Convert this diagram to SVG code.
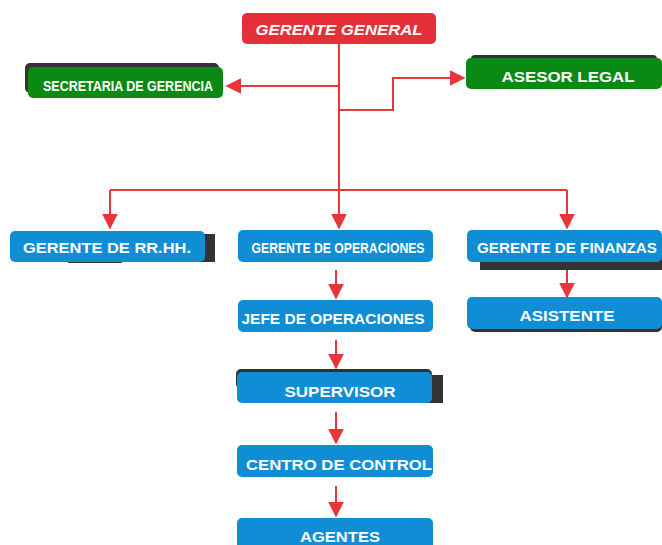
<svg xmlns="http://www.w3.org/2000/svg" width="662" height="545" viewBox="0 0 662 545">
<style>
.t{font-family:"Liberation Sans",Arial,sans-serif;font-weight:bold;fill:#fff;text-anchor:middle}
.blue{fill:#0f8ed6}
.green{fill:#0a8a12}
.sh{fill:#333}
.ln{fill:none;stroke:#e8353a;stroke-width:2}
</style>
<defs>
<marker id="ah" viewBox="0 0 10 10" refX="9" refY="5" markerWidth="8" markerHeight="8" markerUnits="strokeWidth" orient="auto">
<path d="M0,0 L10,5 L0,10 z" fill="#e8353a"/>
</marker>
</defs>
<rect width="662" height="545" fill="#fff"/>
<g id="connectors">
<path class="ln" d="M339,44 V228" marker-end="url(#ah)"/>
<path class="ln" d="M339,86 H227" marker-end="url(#ah)"/>
<path class="ln" d="M339,110 H393 V78 H464" marker-end="url(#ah)"/>
<path class="ln" d="M110,190 H567"/>
<path class="ln" d="M110,190 V228" marker-end="url(#ah)"/>
<path class="ln" d="M567,190 V228" marker-end="url(#ah)"/>
<path class="ln" d="M567,266 V297" marker-end="url(#ah)"/>
<path class="ln" d="M336,270 V298" marker-end="url(#ah)"/>
<path class="ln" d="M336,340 V368" marker-end="url(#ah)"/>
<path class="ln" d="M336,412 V443" marker-end="url(#ah)"/>
<path class="ln" d="M336,486 V516" marker-end="url(#ah)"/>
</g>
<g id="gerente-general">
<rect x="242" y="13" width="194" height="31" rx="5" fill="#e5303a"/>
<text class="t" x="339" y="35" font-size="15.5" font-style="italic" textLength="167" lengthAdjust="spacingAndGlyphs">GERENTE GENERAL</text>
</g>
<g id="secretaria">
<rect class="sh" x="25" y="63" width="194" height="30" rx="5"/>
<rect class="green" x="28" y="67" width="195" height="31" rx="5"/>
<text class="t" x="128" y="91" font-size="15" textLength="170" lengthAdjust="spacingAndGlyphs">SECRETARIA DE GERENCIA</text>
</g>
<g id="asesor">
<rect class="sh" x="471" y="55" width="186" height="28" rx="4"/>
<rect class="green" x="466" y="58" width="196" height="31" rx="5"/>
<text class="t" x="568" y="82" font-size="15" textLength="133" lengthAdjust="spacingAndGlyphs">ASESOR LEGAL</text>
</g>
<g id="rrhh">
<rect class="sh" x="195" y="234" width="20" height="28"/>
<rect class="sh" x="68" y="255" width="54" height="8"/>
<rect class="blue" x="10" y="231" width="195" height="31" rx="5"/>
<text class="t" x="107" y="253" font-size="15" textLength="168" lengthAdjust="spacingAndGlyphs">GERENTE DE RR.HH.</text>
</g>
<g id="operaciones">
<rect class="blue" x="238" y="230" width="195" height="32" rx="5"/>
<text class="t" x="338" y="253" font-size="15" textLength="173" lengthAdjust="spacingAndGlyphs">GERENTE DE OPERACIONES</text>
</g>
<g id="finanzas">
<rect class="sh" x="480" y="255" width="182" height="15"/>
<rect class="blue" x="467" y="230" width="195" height="32" rx="5"/>
<text class="t" x="567" y="253" font-size="15" textLength="180" lengthAdjust="spacingAndGlyphs">GERENTE DE FINANZAS</text>
</g>
<g id="asistente">
<rect class="sh" x="470" y="300" width="192" height="32" rx="5"/>
<rect class="blue" x="467" y="297" width="195" height="32" rx="5"/>
<text class="t" x="567" y="321" font-size="15" textLength="95" lengthAdjust="spacingAndGlyphs">ASISTENTE</text>
</g>
<g id="jefe">
<rect class="blue" x="238" y="300" width="195" height="32" rx="5"/>
<text class="t" x="333" y="324" font-size="15" textLength="183" lengthAdjust="spacingAndGlyphs">JEFE DE OPERACIONES</text>
</g>
<g id="supervisor">
<rect class="sh" x="236" y="369" width="196" height="20" rx="5"/>
<rect class="sh" x="426" y="375" width="17" height="28"/>
<rect class="blue" x="237" y="372" width="195" height="31" rx="5"/>
<text class="t" x="340" y="397" font-size="15" textLength="111" lengthAdjust="spacingAndGlyphs">SUPERVISOR</text>
</g>
<g id="centro">
<rect class="blue" x="237" y="445" width="196" height="32" rx="5"/>
<text class="t" x="339" y="470" font-size="15" textLength="186" lengthAdjust="spacingAndGlyphs">CENTRO DE CONTROL</text>
</g>
<g id="agentes">
<rect class="blue" x="237" y="518" width="196" height="34" rx="5"/>
<text class="t" x="340" y="542" font-size="15" textLength="80" lengthAdjust="spacingAndGlyphs">AGENTES</text>
</g>
</svg>
